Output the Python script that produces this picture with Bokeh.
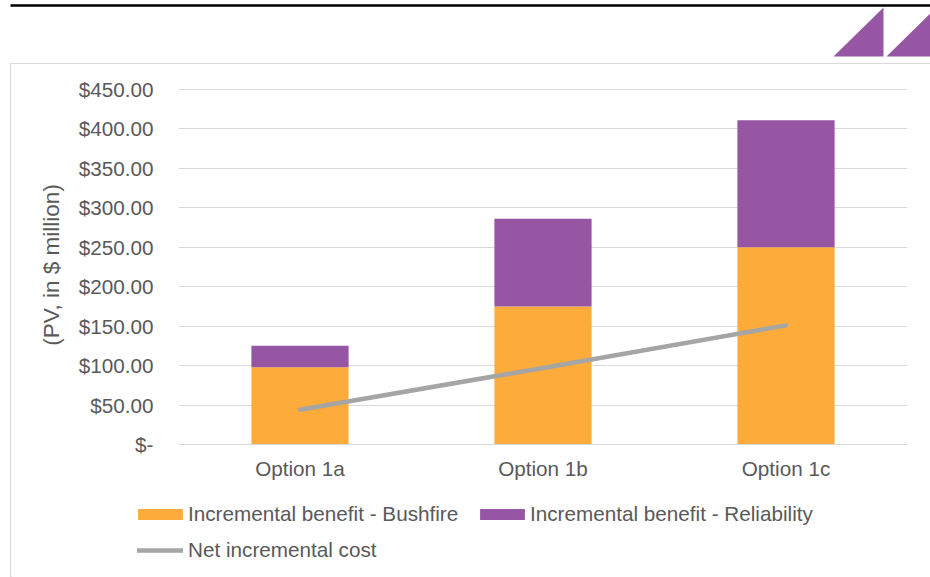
from bokeh.plotting import figure
from bokeh.layouts import column
from bokeh.models import (ColumnDataSource, FactorRange, Range1d, FixedTicker, Legend,
                          LegendItem)
from bokeh.embed import file_html
from bokeh.resources import INLINE

# ---- data ----
categories = ["Option 1a", "Option 1b", "Option 1c"]
bushfire = [98, 175, 250]
reliability = [27, 111, 161]
net_cost = [44, 97, 151]
y_ticks = [0, 50, 100, 150, 200, 250, 300, 350, 400, 450]
y_tick_labels = ["$-", "$50.00", "$100.00", "$150.00", "$200.00", "$250.00",
                 "$300.00", "$350.00", "$400.00", "$450.00"]
series_names = ["Incremental benefit - Bushfire", "Incremental benefit - Reliability",
                "Net incremental cost"]

# ---- style ----
FONT = "Liberation Sans"
FS = "20.7px"
TXT = "#595959"
ORANGE = "#FDAC3C"
PURPLE = "#9756A3"
GREY = "#A5A5A5"
GRID = "#D9D9D9"

W, H = 930, 577
HEAD_H = 63
BODY_X, BODY_Y = 11, 64          # body origin on the page
BODY_W = W - BODY_X
MAIN_H = 430
LEG_H = H - BODY_Y - MAIN_H


def bare(fig):
    fig.axis.visible = False
    fig.grid.visible = False
    fig.outline_line_color = None
    fig.background_fill_color = None
    fig.border_fill_color = None


# ---- header: rule and logo ----
head = figure(width=W, height=HEAD_H, x_range=Range1d(0, W), y_range=Range1d(HEAD_H, 0),
              output_backend="svg", toolbar_location=None, min_border=0)
bare(head)
head.quad(left=[10], right=[W], top=[3.8], bottom=[6.3], color="black", line_color=None)
head.patches(xs=[[833, 883, 883], [886, 936, 936]], ys=[[56, 7, 56], [56, 7, 56]],
             fill_color=PURPLE, line_color=None)

# ---- main chart ----
src = ColumnDataSource(dict(cat=categories, bushfire=bushfire, reliability=reliability,
                            net=net_cost))

FL, FT, FR, FB = 178, 85, 907, 444  # frame edges on the page
main = figure(x_range=FactorRange(factors=categories, range_padding=0),
              y_range=Range1d(0, 455), width=BODY_W, height=MAIN_H,
              output_backend="svg", toolbar_location=None,
              min_border_left=FL - BODY_X, min_border_right=W - FR,
              min_border_top=FT - BODY_Y, min_border_bottom=BODY_Y + MAIN_H - FB)
main.outline_line_color = None

bars = main.vbar_stack(["bushfire", "reliability"], x="cat", width=0.4, source=src,
                       color=[ORANGE, PURPLE], line_color=None)
line = main.line(x="cat", y="net", source=src, line_color=GREY, line_width=4.5,
                 line_cap="round")

main.yaxis.ticker = FixedTicker(ticks=y_ticks)
main.yaxis.major_label_overrides = {t: l for t, l in zip(y_ticks, y_tick_labels)}
main.yaxis.axis_line_color = None
main.yaxis.major_tick_line_color = None
main.yaxis.minor_tick_line_color = None
main.yaxis.major_label_standoff = 19
main.yaxis.major_label_text_font = FONT
main.yaxis.major_label_text_font_size = FS
main.yaxis.major_label_text_color = TXT
main.yaxis.axis_label = "(PV, in $ million)"
main.yaxis.axis_label_text_font = FONT
main.yaxis.axis_label_text_font_size = "22.5px"
main.yaxis.axis_label_text_font_style = "normal"
main.yaxis.axis_label_text_color = TXT
main.yaxis.axis_label_standoff = 12

main.xaxis.axis_line_color = GRID
main.xaxis.major_tick_line_color = None
main.xaxis.minor_tick_line_color = None
main.xaxis.major_label_standoff = 6
main.xaxis.major_label_text_font = FONT
main.xaxis.major_label_text_font_size = FS
main.xaxis.major_label_text_color = TXT

main.xgrid.grid_line_color = None
main.ygrid.ticker = FixedTicker(ticks=y_ticks)
main.ygrid.grid_line_color = GRID

# ---- legend strip (key glyphs come from off-range stand-in renderers) ----
leg = figure(width=BODY_W, height=LEG_H, x_range=Range1d(0, BODY_W),
             y_range=Range1d(0, LEG_H), output_backend="svg", toolbar_location=None,
             min_border=0)
bare(leg)
k1 = leg.vbar(x=[-100], top=[1], width=1, fill_color=ORANGE, line_color=None)
k2 = leg.vbar(x=[-100], top=[1], width=1, fill_color=PURPLE, line_color=None)
k3 = leg.line(x=[-100, -90], y=[1, 1], line_color=GREY, line_width=4.5, line_cap="round")

common = dict(label_text_font=FONT, label_text_font_size=FS, label_text_color=TXT,
              padding=0, margin=0, border_line_color=None, background_fill_alpha=0)
legend_bars = Legend(items=[LegendItem(label=series_names[0], renderers=[k1]),
                            LegendItem(label=series_names[1], renderers=[k2])],
                     orientation="horizontal",
                     location=(132 - BODY_X, H - 525.5),
                     glyph_width=56, glyph_height=14, label_standoff=0, spacing=14,
                     label_width=272, **common)
legend_line = Legend(items=[LegendItem(label=series_names[2], renderers=[k3])],
                     orientation="horizontal",
                     location=(137 - BODY_X, H - 562),
                     glyph_width=46, glyph_height=14, label_standoff=5, **common)
leg.add_layout(legend_bars)
leg.add_layout(legend_line)

body = column(main, column(leg, spacing=0), spacing=0,
              margin=(BODY_Y - HEAD_H, 0, 0, BODY_X),
              styles={"outline": "1px solid " + GRID})
root = column(head, body, spacing=0)

open("out.html", "w").write(file_html(root, INLINE))
